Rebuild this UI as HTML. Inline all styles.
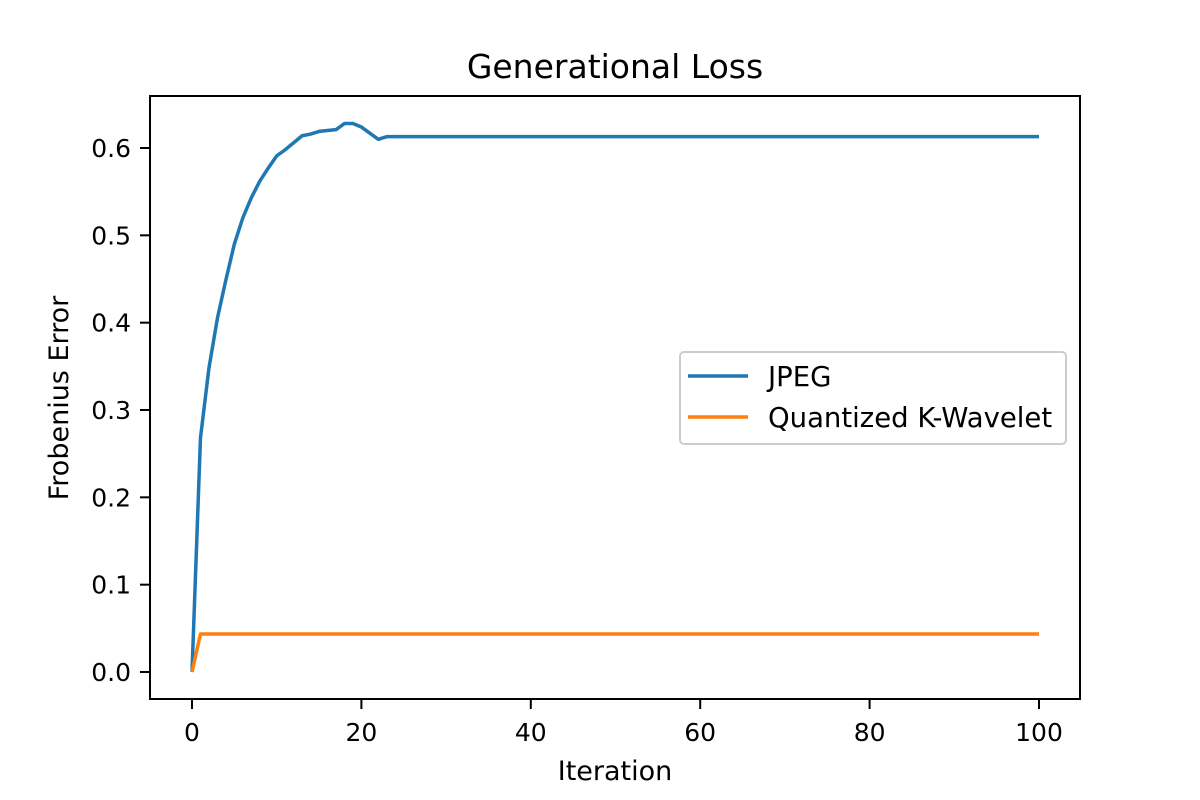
<!DOCTYPE html>
<html><head><meta charset="utf-8"><style>
body{margin:0;background:#fff;}
svg{display:block;font-family:"DejaVu Sans","Liberation Sans",sans-serif;}
</style></head><body>
<svg id="chart" width="1200" height="800"></svg>
<script>
const iterations = Array.from({length:101},(_,i)=>i);
const jpegHead = [0,0.268,0.348,0.405,0.449,0.49,0.52,0.543,0.562,0.577,0.591,0.598,0.606,0.614,0.616,0.619,0.620,0.621,0.628,0.628,0.624,0.617,0.610,0.613];
const jpegTail = 0.613;
const waveHead = [0];
const waveTail = 0.0435;
const xTicks = [0,20,40,60,80,100];
const yTicks = [0.0,0.1,0.2,0.3,0.4,0.5,0.6];

const jpeg = iterations.map(i => i < jpegHead.length ? jpegHead[i] : jpegTail);
const wave = iterations.map(i => i < waveHead.length ? waveHead[i] : waveTail);

const svg = document.getElementById('chart');
const NS = 'http://www.w3.org/2000/svg';
const L=150,R=1080,T=96,B=699;
const xs = v => 192 + (1039-192)*v/100;
const ys = v => 672 - (672-148)*v/0.6;
function mk(tag, attrs, text){
  const e=document.createElementNS(NS,tag);
  for(const k in attrs) e.setAttribute(k,attrs[k]);
  if(text!==undefined) e.textContent=text;
  svg.appendChild(e); return e;
}
let e;
e = mk('text',{x:615,y:78,'text-anchor':'middle','font-size':33},'Generational Loss');



xTicks.forEach(t=>{
  e = mk('line',{x1:xs(t),x2:xs(t),y1:B,y2:B+10,stroke:'#000','stroke-width':2});
  
  
  e = mk('text',{x:xs(t),y:B+42,'text-anchor':'middle','font-size':25},String(t));
  
  
});
yTicks.forEach(t=>{
  e = mk('line',{x1:L-10,x2:L,y1:ys(t),y2:ys(t),stroke:'#000','stroke-width':2});
  
  
  e = mk('text',{x:131,y:ys(t)+9,'text-anchor':'end','font-size':25},t.toFixed(1));
  
  
});
e = mk('text',{x:615,y:780,'text-anchor':'middle','font-size':27},'Iteration');


e = mk('text',{x:68,y:398,'text-anchor':'middle','font-size':27,transform:'rotate(-90 68 398)'},'Frobenius Error');



function path(vals,color,name){
  const d = vals.map((v,i)=>(i?'L':'M')+xs(iterations[i]).toFixed(2)+' '+ys(v).toFixed(2)).join(' ');
  const p = mk('path',{d:d,fill:'none',stroke:color,'stroke-width':3.5,'stroke-linejoin':'round'});
  
  
}
path(jpeg,'#1f77b4','jpeg-line');
path(wave,'#ff7f0e','quantized-k-wavelet-line');

e = mk('rect',{x:L,y:T,width:R-L,height:B-T,fill:'none',stroke:'#000','stroke-width':2});



e = mk('rect',{x:680,y:352,width:386,height:92,rx:4,fill:'#fff','fill-opacity':0.8,stroke:'#ccc','stroke-width':2});


[['JPEG','#1f77b4',376],['Quantized K-Wavelet','#ff7f0e',417]].forEach(([lab,c,y])=>{
  e = mk('line',{x1:688,x2:748,y1:y,y2:y,stroke:c,'stroke-width':3.5});
  
  
  e = mk('text',{x:768,y:y+10,'font-size':27.5},lab);
  
  
});
</script>
</body></html>
